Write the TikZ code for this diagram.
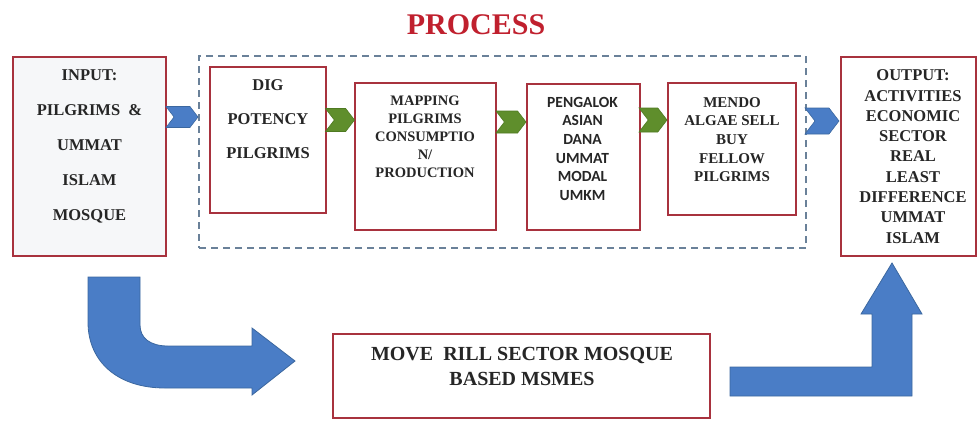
\documentclass[tikz,border=0pt]{standalone}
\usepackage{fontspec}
\setmainfont{Liberation Serif}
\newfontfamily\sansf{Carlito}
\usetikzlibrary{shapes.symbols}
\definecolor{boxred}{HTML}{A8323E}
\definecolor{dashc}{HTML}{6A8199}
\definecolor{txtc}{HTML}{262626}
\definecolor{titlec}{HTML}{C0202E}
\definecolor{blueA}{HTML}{4A7DC6}
\definecolor{blueE}{HTML}{3B679F}
\definecolor{greenA}{HTML}{5F8E2C}
\definecolor{greenE}{HTML}{4F7A22}
\tikzset{
  pbox/.style={draw=boxred, line width=1.6pt, fill=white, inner sep=0pt},
  dbox/.style={draw=dashc, line width=1.3pt, dash pattern=on 7pt off 5pt, inner sep=0pt},
  txt/.style={align=center, inner sep=0pt, anchor=north, text=txtc},
  chev/.style={shape=signal, signal to=east, signal from=west, signal pointer angle=105, inner sep=0pt},
  bchev/.style={chev, fill=blueA, draw=blueE, line width=0.6pt},
  gchev/.style={chev, fill=greenA, draw=greenE, line width=0.6pt},
  bigarrow/.style={fill=blueA, draw=blueE, line width=0.8pt, line join=miter}
}
\begin{document}
\begin{tikzpicture}[x=1pt,y=-1pt]
\useasboundingbox (0,0) rectangle (979,421);

% title
\node[inner sep=0pt, text=titlec, font=\fontsize{30}{36}\selectfont\bfseries] (title) at (476,25) {PROCESS};

% dashed process frame
\node[dbox, minimum width=607pt, minimum height=192pt] (frame) at (502.5,152) {};

% boxes
\node[pbox, fill={rgb,255:red,246;green,247;blue,249}, minimum width=153pt, minimum height=199pt] (in) at (89.5,156.5) {};
\node[pbox, minimum width=116pt, minimum height=146pt] (dig) at (268,140) {};
\node[pbox, minimum width=141pt, minimum height=147pt] (map) at (425.5,156.5) {};
\node[pbox, minimum width=113pt, minimum height=146pt] (peng) at (583.5,157) {};
\node[pbox, minimum width=128pt, minimum height=132pt] (mendo) at (732,149) {};
\node[pbox, minimum width=135pt, minimum height=199pt] (out) at (908.5,156.5) {};
\node[pbox, minimum width=377pt, minimum height=84pt] (bot) at (521.5,376) {};

% texts
\node[txt, font=\fontsize{16.5}{35}\selectfont\bfseries] (intxt) at (89.5,69.6)
  {INPUT:\\PILGRIMS\ \ \&\\UMMAT\\ISLAM\\MOSQUE};
\node[txt, font=\fontsize{16.5}{34}\selectfont\bfseries] (digtxt) at (268,79.6)
  {DIG\\POTENCY\\PILGRIMS};
\node[txt, font=\fontsize{14.5}{18}\selectfont\bfseries] (maptxt) at (425,95.2)
  {MAPPING\\PILGRIMS\\CONSUMPTIO\\N/\\PRODUCTION};
\node[txt, font=\fontsize{15.5}{18.6}\selectfont\sansf\bfseries] (pengtxt) at (582.5,97)
  {PENGALOK\\ASIAN\\DANA\\UMMAT\\MODAL\\UMKM};
\node[txt, font=\fontsize{15}{18.7}\selectfont\bfseries] (mendotxt) at (732,97)
  {MENDO\\ALGAE SELL\\BUY\\FELLOW\\PILGRIMS};
\node[txt, font=\fontsize{16.5}{20.3}\selectfont\bfseries] (outtxt) at (913,69.6)
  {OUTPUT:\\ACTIVITIES\\ECONOMIC\\SECTOR\\REAL\\LEAST\\DIFFERENCE\\UMMAT\\ISLAM};
\node[txt, font=\fontsize{20}{25}\selectfont\bfseries] (bottxt) at (522,347.4)
  {MOVE\ \ RILL SECTOR MOSQUE\\BASED MSMES};

% chevrons
\node[bchev, minimum width=32pt, minimum height=21pt] (c1) at (182,117) {};
\node[gchev, minimum width=29pt, minimum height=23pt] (c2) at (340,120) {};
\node[gchev, minimum width=30pt, minimum height=22pt] (c3) at (511,122) {};
\node[gchev, minimum width=28pt, minimum height=24pt] (c4) at (653,120) {};
\node[bchev, minimum width=34pt, minimum height=26pt] (c5) at (822,121) {};

% bent arrow from input to bottom box
\draw[bigarrow] (88,277) -- (140,277) -- (140,325)
  .. controls (140,338) and (150,346) .. (168,346)
  -- (252,346) -- (252,328) -- (295,361) -- (252,395) -- (252,388)
  -- (165,388) .. controls (118,388) and (88,362) .. (88,322) -- cycle;

% bent arrow from bottom to output
\draw[bigarrow] (730,367) -- (872,367) -- (872,314) -- (861,314) -- (892,263)
  -- (922,314) -- (912,314) -- (912,396) -- (730,396) -- cycle;
\end{tikzpicture}
\end{document}
